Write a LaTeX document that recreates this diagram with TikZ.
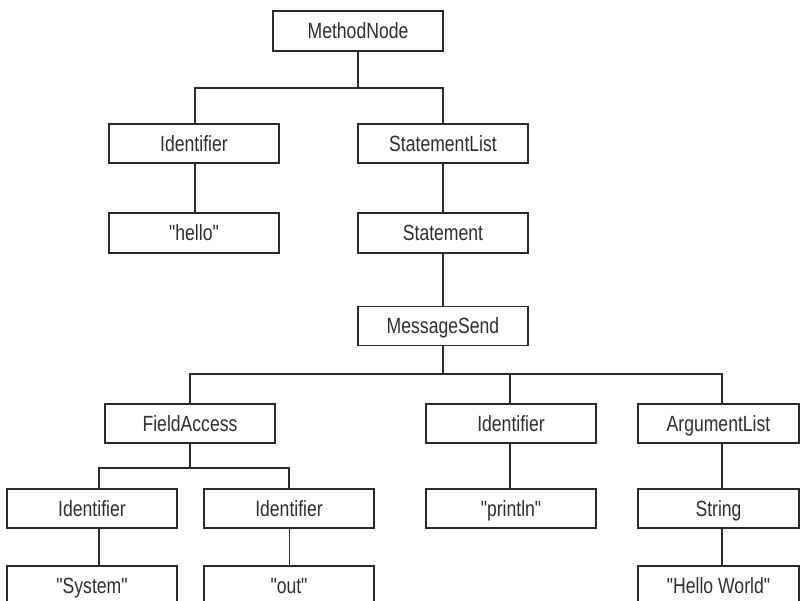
\documentclass[tikz,border=0pt]{standalone}
\usepackage{fontspec}
\newfontfamily\boxfont{Liberation Sans}[FakeStretch=0.8]
\definecolor{ink}{HTML}{2A2A2A}
\definecolor{txt}{HTML}{2E2E2E}
\tikzset{
  box/.style={draw=ink, line width=1.4pt, minimum width=170pt, minimum height=39pt,
    inner sep=0pt, text=txt, text height=15.8pt, text depth=0pt,
    font=\boxfont\fontsize{22}{24}\selectfont},
  narrowbox/.style={box, minimum width=161pt},
  link/.style={draw=ink, line width=1.4pt},
}
\begin{document}
\begin{tikzpicture}[x=1pt,y=-1pt]
\useasboundingbox (0,0) rectangle (800,601);
\node[box, minimum height=40pt] (mn) at (358,31) {MethodNode};
\node[box] (id1) at (194,143.5) {Identifier};
\node[box, minimum height=40pt] (hello) at (194,233) {"hello"};
\node[box] (sl) at (443,143.5) {StatementList};
\node[box, minimum height=40pt] (st) at (443,233) {Statement};
\node[box] (ms) at (443,326) {MessageSend};
\node[box] (fa) at (190,423.5) {FieldAccess};
\node[box] (idp) at (511,423.5) {Identifier};
\node[narrowbox] (al) at (718.5,423.5) {ArgumentList};
\node[box] (ids) at (92,508.5) {Identifier};
\node[box] (ido) at (289,508.5) {Identifier};
\node[box] (pl) at (511,508.5) {"println"};
\node[narrowbox] (str) at (718.5,508.5) {String};
\node[box, minimum height=40pt] (sys) at (92,586) {"System"};
\node[box, minimum height=40pt] (out) at (289,586) {"out"};
\node[narrowbox, minimum height=40pt] (hw) at (718.5,586) {"Hello World"};

\coordinate (b1) at (358,88);
\coordinate (b2) at (443,374);
\coordinate (b3) at (190,468);

\path[link] (mn.south) -- (b1) -| ([xshift=1pt]id1.north);
\path[link] (b1) -| (sl.north);
\path[link] ([xshift=1pt]id1.south) -- ([xshift=1pt]hello.north);
\path[link] (sl.south) -- (st.north);
\path[link] (st.south) -- (ms.north);
\path[link] (ms.south) -- (b2) -| (fa.north);
\path[link] (b2) -| ([xshift=-1pt]idp.north);
\path[link] (b2) -| ([xshift=3.5pt]al.north);
\path[link] (fa.south) -- (b3) -| ([xshift=7pt]ids.north);
\path[link] (b3) -| (ido.north);
\path[link] ([xshift=7pt]ids.south) -- ([xshift=7pt]sys.north);
\path[link, line width=1pt] (ido.south) -- (out.north);
\path[link] ([xshift=-1pt]idp.south) -- ([xshift=-1pt]pl.north);
\path[link] ([xshift=3.5pt]al.south) -- ([xshift=3.5pt]str.north);
\path[link] ([xshift=3.5pt]str.south) -- ([xshift=3.5pt]hw.north);
\end{tikzpicture}
\end{document}
